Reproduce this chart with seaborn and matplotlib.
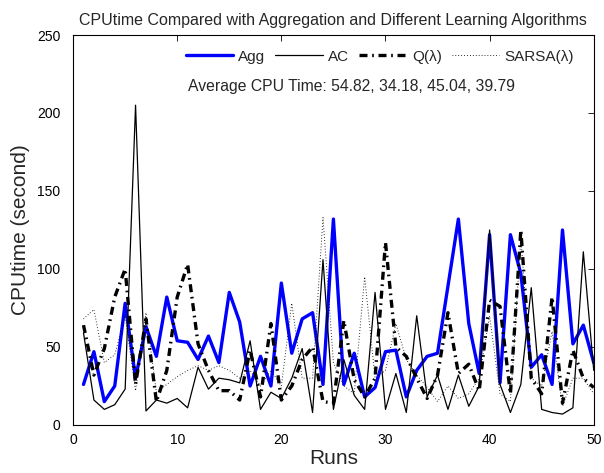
import matplotlib
matplotlib.use("Agg")
import matplotlib.pyplot as plt
import seaborn as sns
import pandas as pd

runs = list(range(1, 51))
agg = [26, 47, 15, 25, 78, 30, 63, 44, 82, 54,
       53, 42, 57, 40, 85, 66, 25, 44, 25, 91,
       46, 68, 72, 26, 132, 26, 46, 18, 24, 47,
       48, 18, 35, 44, 46, 89, 132, 65, 33, 122,
       27, 122, 97, 37, 45, 26, 125, 52, 64, 40]
ac = [59, 16, 10, 13, 23, 205, 9, 16, 14, 17,
      11, 37, 23, 30, 29, 27, 54, 10, 21, 17,
      30, 49, 8, 106, 10, 42, 19, 10, 85, 10,
      33, 8, 70, 18, 32, 10, 32, 12, 25, 125,
      26, 8, 26, 88, 10, 8, 7, 11, 111, 35]
q_lambda = [64, 32, 49, 82, 100, 26, 68, 15, 35, 82,
            103, 52, 35, 22, 22, 16, 48, 18, 65, 16,
            25, 42, 50, 15, 14, 67, 29, 18, 30, 117,
            50, 44, 30, 17, 32, 72, 33, 39, 22, 80,
            76, 20, 125, 30, 20, 82, 14, 48, 30, 24]
sarsa_lambda = [68, 74, 40, 45, 70, 22, 72, 21, 26, 31,
                35, 38, 35, 38, 35, 30, 35, 25, 35, 25,
                78, 30, 30, 133, 40, 25, 20, 95, 30, 35,
                65, 42, 32, 24, 15, 25, 17, 20, 30, 70,
                20, 15, 120, 30, 25, 60, 12, 30, 30, 20]
series_names = ["Agg", "AC", "Q(λ)", "SARSA(λ)"]
averages = [54.82, 34.18, 45.04, 39.79]
x_ticks = [0, 10, 20, 30, 40, 50]
y_ticks = [0, 50, 100, 150, 200, 250]
title = "CPUtime Compared with Aggregation and Different Learning Algorithms"

sns.set_style("white")
plt.rcParams['font.family'] = ['Liberation Sans', 'DejaVu Sans']

fig = plt.figure(figsize=(6.04, 4.73), dpi=100)
ax = fig.add_axes([0.121, 0.1015, 0.862, 0.8245])

styles = [
    dict(color="#0000ff", linewidth=2.4, linestyle="-"),
    dict(color="black", linewidth=0.9, linestyle="-"),
    dict(color="black", linewidth=2.4, linestyle=(0, (2.4, 1.4, 0.5, 1.4))),
    dict(color="black", linewidth=0.7, linestyle=(0, (0.8, 2.2))),
]
for name, vals, st in zip(series_names, [agg, ac, q_lambda, sarsa_lambda], styles):
    df = pd.DataFrame({"Runs": runs, "CPU": vals})
    sns.lineplot(data=df, x="Runs", y="CPU", ax=ax, label=name,
                 sort=False, errorbar=None, color=st["color"],
                 linewidth=st["linewidth"])
    ax.lines[-1].set_linestyle(st["linestyle"])

ax.set_xlim(0, 50)
ax.set_ylim(0, 250)
ax.set_xticks(x_ticks)
ax.set_yticks(y_ticks)
ax.tick_params(direction="in", top=True, right=True, length=4, width=0.6,
               labelsize=10, colors="black")
ax.tick_params(axis="x", pad=6)
ax.tick_params(axis="y", pad=9)
for sp in ax.spines.values():
    sp.set_color("black")
    sp.set_linewidth(0.8)
ax.set_xlabel("Runs", fontsize=15, labelpad=1)
ax.set_ylabel("CPUtime (second)", fontsize=15, labelpad=5)
ax.set_title(title, fontsize=11.5, pad=7)

leg = ax.legend(ncol=4, frameon=False, loc="center", bbox_to_anchor=(0.589, 0.944),
                handlelength=3.1, columnspacing=0.65, handletextpad=0.35, fontsize=11)
avg_text = "Average CPU Time: " + ", ".join(f"{a:.2f}" for a in averages)
ax.text(0.221, 0.867, avg_text, transform=ax.transAxes, fontsize=11.3, va="center", ha="left")

fig.savefig("out.png", dpi=100)
